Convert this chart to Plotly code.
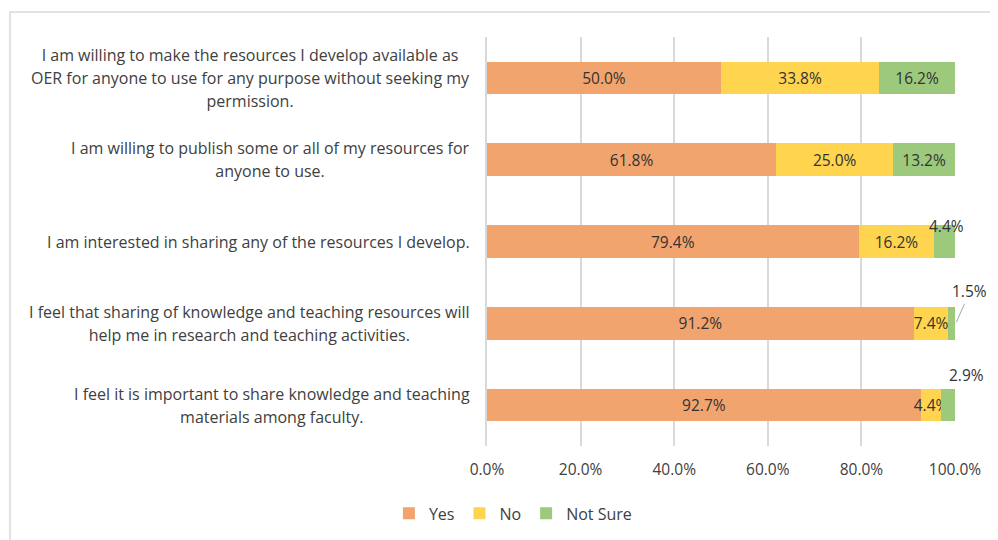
import plotly.graph_objects as go

categories = [
    "I am willing to make the resources I develop available as<br>OER for anyone to use for any purpose without seeking my<br>permission.",
    "I am willing to publish some or all of my resources for<br>anyone to use.",
    "I am interested in sharing any of the resources I develop.",
    "I feel that sharing of knowledge and teaching resources will<br>help me in research and teaching activities.",
    "I feel it is important to share knowledge and teaching<br>materials among faculty.",
]
yes = [50.0, 61.8, 79.4, 91.2, 92.7]
no = [33.8, 25.0, 16.2, 7.4, 4.4]
not_sure = [16.2, 13.2, 4.4, 1.5, 2.9]
tick_vals = [0, 20, 40, 60, 80, 100]
tick_text = ["0.0%", "20.0%", "40.0%", "60.0%", "80.0%", "100.0%"]

FONT = "Open Sans"
TXT = "#404040"
NUM = "#333333"
LBL = 16
NSZ = 15.5
ids = list(range(len(categories)))

fig = go.Figure()
series = [("Yes", yes, "#F1A46E"), ("No", no, "#FFD44F"), ("Not Sure", not_sure, "#9CC97C")]
for name, vals, col in series:
    if name == "Not Sure":
        txt = [f"{v:.1f}%" if v >= 5 else "" for v in vals]
    else:
        txt = [f"{v:.1f}%" for v in vals]
    fig.add_trace(go.Bar(
        y=ids, x=vals, name=name, orientation="h",
        marker=dict(color=col, line=dict(width=0)),
        text=txt, texttemplate="%{text}", textposition="inside",
        insidetextanchor="middle", textangle=0, constraintext="none",
        textfont=dict(family=FONT, size=NSZ, color=NUM),
        cliponaxis=False, hoverinfo="skip",
    ))

annotations = []
for i, lab in enumerate(categories):
    lines = lab.split("<br>")
    txt = "<br>".join(f'<span style="font-size:{LBL}px">{ln}</span>' for ln in lines)
    annotations.append(dict(
        x=-0.032, xref="paper", y=i, yref="y", text=txt, showarrow=False,
        xanchor="right", yanchor="middle", align="center",
        font=dict(family=FONT, size=17.7, color=TXT),
    ))

for i, v in enumerate(not_sure):
    if v >= 5:
        continue
    mid = yes[i] + no[i] + v / 2
    if i == 2:
        annotations.append(dict(x=mid, y=i, xref="x", yref="y", text=f"{v:.1f}%",
                                showarrow=False, yshift=16, xshift=2,
                                font=dict(family=FONT, size=NSZ, color=NUM)))
    elif i == 3:
        annotations.append(dict(x=mid, y=i, xref="x", yref="y", text=f"{v:.1f}%",
                                showarrow=True, ax=14, ay=-32, xshift=4, arrowhead=0,
                                arrowwidth=1, arrowcolor="#A6A6A6", standoff=1,
                                font=dict(family=FONT, size=NSZ, color=NUM)))
    else:
        annotations.append(dict(x=mid, y=i, xref="x", yref="y", text=f"{v:.1f}%",
                                showarrow=False, yshift=30, xshift=18,
                                font=dict(family=FONT, size=NSZ, color=NUM)))

fig.update_layout(
    barmode="stack",
    bargap=0.6,
    width=990, height=532,
    margin=dict(l=479, r=43, t=29, b=94),
    paper_bgcolor="white", plot_bgcolor="white",
    font=dict(family=FONT, size=LBL, color=TXT),
    xaxis=dict(range=[0, 100], tickvals=tick_vals, ticktext=tick_text,
               showgrid=True, gridcolor="#D9D9D9", gridwidth=1.5,
               zeroline=False, showline=False, ticks="", ticklabelstandoff=12,
               tickfont=dict(family=FONT, size=NSZ, color=TXT), fixedrange=True),
    yaxis=dict(tickvals=ids, showticklabels=False, range=[4.5, -0.5],
               showgrid=False, zeroline=False, showline=True, linecolor="#D9D9D9",
               linewidth=1.5, fixedrange=True),
    legend=dict(orientation="h", traceorder="normal", xref="container", yref="container",
                x=0.51, xanchor="center", y=0.05, yanchor="middle",
                font=dict(family=FONT, size=LBL, color=TXT),
                itemwidth=30, tracegroupgap=0),
    annotations=annotations,
    shapes=[dict(type="rect", xref="paper", yref="paper",
                 x0=(10 - 487) / 468, x1=1.3, y0=-0.4, y1=(446 - 12) / 409,
                 line=dict(color="#D9D9D9", width=1.5), layer="below")],
    showlegend=True,
)

fig.write_html("out.html")
